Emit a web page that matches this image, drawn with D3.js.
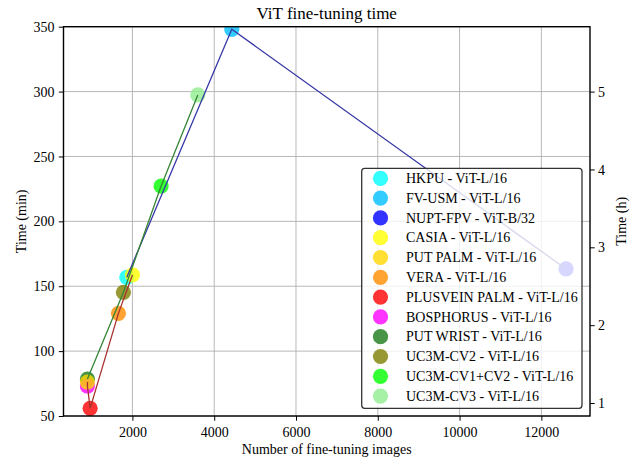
<!DOCTYPE html>
<html>
<head>
<meta charset="utf-8">
<script src="https://cdn.jsdelivr.net/npm/d3@7"></script>
<style>
  html, body { margin: 0; padding: 0; background: #fff; }
  svg { display: block; font-family: "Liberation Serif", "DejaVu Serif", serif; }
</style>
</head>
<body>
<svg id="chart" width="635" height="460"></svg>
<script>
// ---- data ----
const datasets = ["HKPU", "FV-USM", "NUPT-FPV", "CASIA", "PUT PALM", "VERA",
  "PLUSVEIN PALM", "BOSPHORUS", "PUT WRIST", "UC3M-CV2", "UC3M-CV1+CV2", "UC3M-CV3"];
const models = ["ViT-L/16", "ViT-L/16", "ViT-B/32", "ViT-L/16", "ViT-L/16", "ViT-L/16",
  "ViT-L/16", "ViT-L/16", "ViT-L/16", "ViT-L/16", "ViT-L/16", "ViT-L/16"];
const groups = ["finger", "finger", "finger", "palm", "palm", "palm",
  "palm", "palm", "wrist", "wrist", "wrist", "wrist"];
const images = [1862, 4430, 12604, 2000, 900, 1658, 966, 900, 900, 1780, 2702, 3599];
const timesMin = [156.9, 348.0, 163.3, 158.7, 76.2, 129.1, 55.9, 73.1, 78.5, 145.3, 227.2, 297.4];
const pointColors = ["#00ffff", "#00bfff", "#0000ff", "#ffff00", "#ffd700", "#ff8c00",
  "#ff0000", "#ff00ff", "#1a7a1a", "#808000", "#00ff00", "#90ee90"];
const groupNames = ["finger", "palm", "wrist"];
const groupLineColors = ["#3838a8", "#a83030", "#358535"];
const xTicks = [2000, 4000, 6000, 8000, 10000, 12000];
const yTicks = [50, 100, 150, 200, 250, 300, 350];
const y2Ticks = [1, 2, 3, 4, 5];
const titleText = "ViT fine-tuning time";
const xLabel = "Number of fine-tuning images";
const yLabel = "Time (min)";
const y2Label = "Time (h)";
const yLimits = [50, 350];

// ---- layout ----
const svg = d3.select("#chart");
const L = 63.5, R = 590, T = 26.7, B = 416;
const fontSize = 14;
const FONT = "Liberation Serif";

const xMin = d3.min(images), xMax = d3.max(images);
const pad = (xMax - xMin) * 0.05;
const x = d3.scaleLinear().domain([xMin - pad, xMax + pad]).range([L, R]);
const y = d3.scaleLinear().domain(yLimits).range([B, T]);
const y2 = d3.scaleLinear().domain([yLimits[0] / 60, yLimits[1] / 60]).range([B, T]);

svg.append("defs").append("clipPath").attr("id", "plotclip")
  .append("rect").attr("x", L).attr("y", T).attr("width", R - L).attr("height", B - T);

// grid
const grid = svg.append("g").attr("stroke", "#b0b0b0").attr("stroke-width", 0.9);
xTicks.forEach(t => grid.append("line").attr("x1", x(t)).attr("x2", x(t)).attr("y1", T).attr("y2", B));
yTicks.forEach(t => grid.append("line").attr("x1", L).attr("x2", R).attr("y1", y(t)).attr("y2", y(t)));

// points (drawing order: finger, wrist, palm)
const rows = datasets.map((d, i) => ({
  name: d, model: models[i], group: groups[i], n: images[i], t: timesMin[i], color: pointColors[i]
}));
const drawOrder = [0, 1, 2, 3, 8, 9, 10, 11, 5, 6, 7, 4];
const plot = svg.append("g").attr("clip-path", "url(#plotclip)");
plot.selectAll("circle.pt").data(drawOrder.map(i => rows[i])).join("circle")
  .attr("class", "pt")
  .attr("cx", d => x(d.n)).attr("cy", d => y(d.t)).attr("r", 7.6)
  .attr("fill", d => d.color).attr("fill-opacity", 0.8);

// group lines (sorted by number of images)
const line = d3.line().x(d => x(d.n)).y(d => y(d.t));
groupNames.forEach((g, gi) => {
  const pts = rows.filter(r => r.group === g).slice().sort((a, b) => a.n - b.n);
  plot.append("path").datum(pts).attr("d", line)
    .attr("fill", "none").attr("stroke", groupLineColors[gi]).attr("stroke-width", 1.3);
});

// axes
const tickLen = 4.7;
const xAxis = svg.append("g").attr("transform", `translate(0,${B})`)
  .call(d3.axisBottom(x).tickValues(xTicks).tickFormat(d3.format("d")).tickSize(tickLen).tickSizeOuter(0));
xAxis.selectAll("text").attr("y", 20.5).attr("dy", null);

const yAxis = svg.append("g").attr("transform", `translate(${L},0)`)
  .call(d3.axisLeft(y).tickValues(yTicks).tickFormat(d3.format("d")).tickSize(tickLen).tickSizeOuter(0));
yAxis.selectAll("text").attr("x", -9).attr("dy", "0.33em");

const y2Axis = svg.append("g").attr("transform", `translate(${R},0)`)
  .call(d3.axisRight(y2).tickValues(y2Ticks).tickFormat(d3.format("d")).tickSize(tickLen).tickSizeOuter(0));
y2Axis.selectAll("text").attr("x", 8).attr("dy", "0.33em");

[xAxis, yAxis, y2Axis].forEach(a => {
  a.attr("font-family", FONT).attr("font-size", fontSize);
  a.select(".domain").remove();
  a.selectAll(".tick line").attr("stroke", "#000").attr("stroke-width", 1);
  a.selectAll("text").attr("fill", "#000");
});

// spines
svg.append("rect").attr("x", L).attr("y", T).attr("width", R - L).attr("height", B - T)
  .attr("fill", "none").attr("stroke", "#000").attr("stroke-width", 1.4);

// labels
svg.append("text").attr("x", (L + R) / 2).attr("y", 18.5).attr("text-anchor", "middle")
  .attr("font-family", FONT).attr("font-size", 17).text(titleText);
svg.append("text").attr("x", (L + R) / 2).attr("y", 454).attr("text-anchor", "middle")
  .attr("font-family", FONT).attr("font-size", fontSize).text(xLabel);
svg.append("text").attr("transform", `translate(26,${(T + B) / 2}) rotate(-90)`)
  .attr("text-anchor", "middle").attr("font-family", FONT).attr("font-size", fontSize).text(yLabel);
svg.append("text").attr("transform", `translate(626,${(T + B) / 2}) rotate(-90)`)
  .attr("text-anchor", "middle").attr("font-family", FONT).attr("font-size", fontSize).text(y2Label);

// legend
const lg = svg.append("g").attr("font-family", FONT);
lg.append("rect").attr("x", 361.7).attr("y", 168.3).attr("width", 220.3).attr("height", 240)
  .attr("rx", 3).attr("fill", "#fff").attr("fill-opacity", 0.8)
  .attr("stroke", "#333").attr("stroke-width", 1.3);
const items = lg.selectAll("g.item").data(rows).join("g").attr("class", "item")
  .attr("transform", (d, i) => `translate(0,${178.3 + i * 19.8})`);
items.append("circle").attr("cx", 380.5).attr("cy", 0).attr("r", 7.6)
  .attr("fill", d => d.color).attr("fill-opacity", 0.8);
items.append("text").attr("x", 406).attr("y", 0).attr("dy", "0.33em")
  .attr("font-size", fontSize).text(d => `${d.name} - ${d.model}`);
</script>
</body>
</html>
